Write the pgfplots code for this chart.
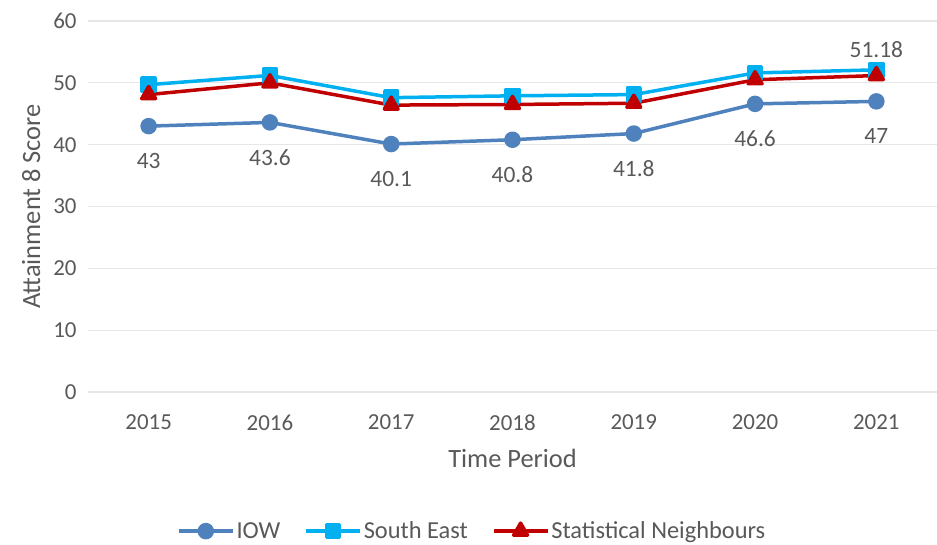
\documentclass[border=0pt]{standalone}
\usepackage{pgfplots}
\pgfplotsset{compat=1.18}
\usepackage{fontspec}
\setmainfont{Carlito}
\definecolor{iow}{HTML}{4F81BD}
\definecolor{se}{HTML}{00B0F0}
\definecolor{sn}{HTML}{C00000}
\definecolor{txt}{HTML}{595959}
\definecolor{gridc}{HTML}{E6E6E6}
\begin{document}
\begin{tikzpicture}
\begin{axis}[
  scale only axis,
  width=849bp, height=371bp,
  xmin=2014.5, xmax=2021.5,
  ymin=0, ymax=60,
  xtick={2015,...,2021},
  ytick={0,10,...,60},
  xticklabel style={/pgf/number format/1000 sep={}},
  /pgf/number format/assume math mode=true,
  axis line style={draw=none},
  tick style={draw=none},
  ymajorgrids, grid style={gridc, line width=1.2bp},
  ticklabel style={font=\fontsize{23}{26}\selectfont, text=txt},
  yticklabel style={xshift=-8bp},
  xticklabel style={yshift=-19bp},
  xlabel={Time Period}, ylabel={Attainment 8 Score},
  label style={font=\fontsize{26.5}{30}\selectfont, text=txt},
  xlabel style={yshift=-12bp},
  ylabel style={yshift=6bp},
  legend style={draw=none, at={(0.4525,-0.375)}, anchor=center,
    font=\fontsize{24.5}{28}\selectfont, text=txt,
    /tikz/every even column/.append style={column sep=22bp}},
  legend columns=3,
  legend image code/.code={
    \draw[#1, mark repeat=2, mark phase=2] plot coordinates {(0bp,0bp) (27bp,0bp) (54bp,0bp)};},
  line join=round,
]
\addplot[iow, line width=3.5bp, mark=*, mark size=6.5bp,
  nodes near coords, point meta=explicit symbolic,
  nodes near coords align={below},
  every node near coord/.append style={font=\fontsize{23.5}{26}\selectfont, text=txt, yshift=-22bp}]
  coordinates {(2015,43)[43] (2016,43.6)[43.6] (2017,40.1)[40.1] (2018,40.8)[40.8] (2019,41.8)[41.8] (2020,46.6)[46.6] (2021,47)[47]};
\addlegendentry{IOW}
\addplot[se, line width=3.5bp, mark=square*, mark size=6.5bp]
  coordinates {(2015,49.7) (2016,51.2) (2017,47.6) (2018,47.9) (2019,48.1) (2020,51.6) (2021,52.1)};
\addlegendentry{South East}
\addplot[sn, line width=3.5bp, mark=triangle*, mark size=8bp]
  coordinates {(2015,48.1) (2016,50.0) (2017,46.4) (2018,46.5) (2019,46.7) (2020,50.5) (2021,51.18)};
\addlegendentry{Statistical Neighbours}
\addplot[draw=none, forget plot, nodes near coords, point meta=explicit symbolic,
  every node near coord/.append style={font=\fontsize{23.5}{26}\selectfont, text=txt, yshift=9bp}]
  coordinates {(2021,52.1)[51.18]};
\end{axis}
\pgfresetboundingbox
\path (current axis.south west) ++(-88bp,-152bp) rectangle ([xshift=0bp,yshift=21bp]current axis.north east);
\end{tikzpicture}
\end{document}
